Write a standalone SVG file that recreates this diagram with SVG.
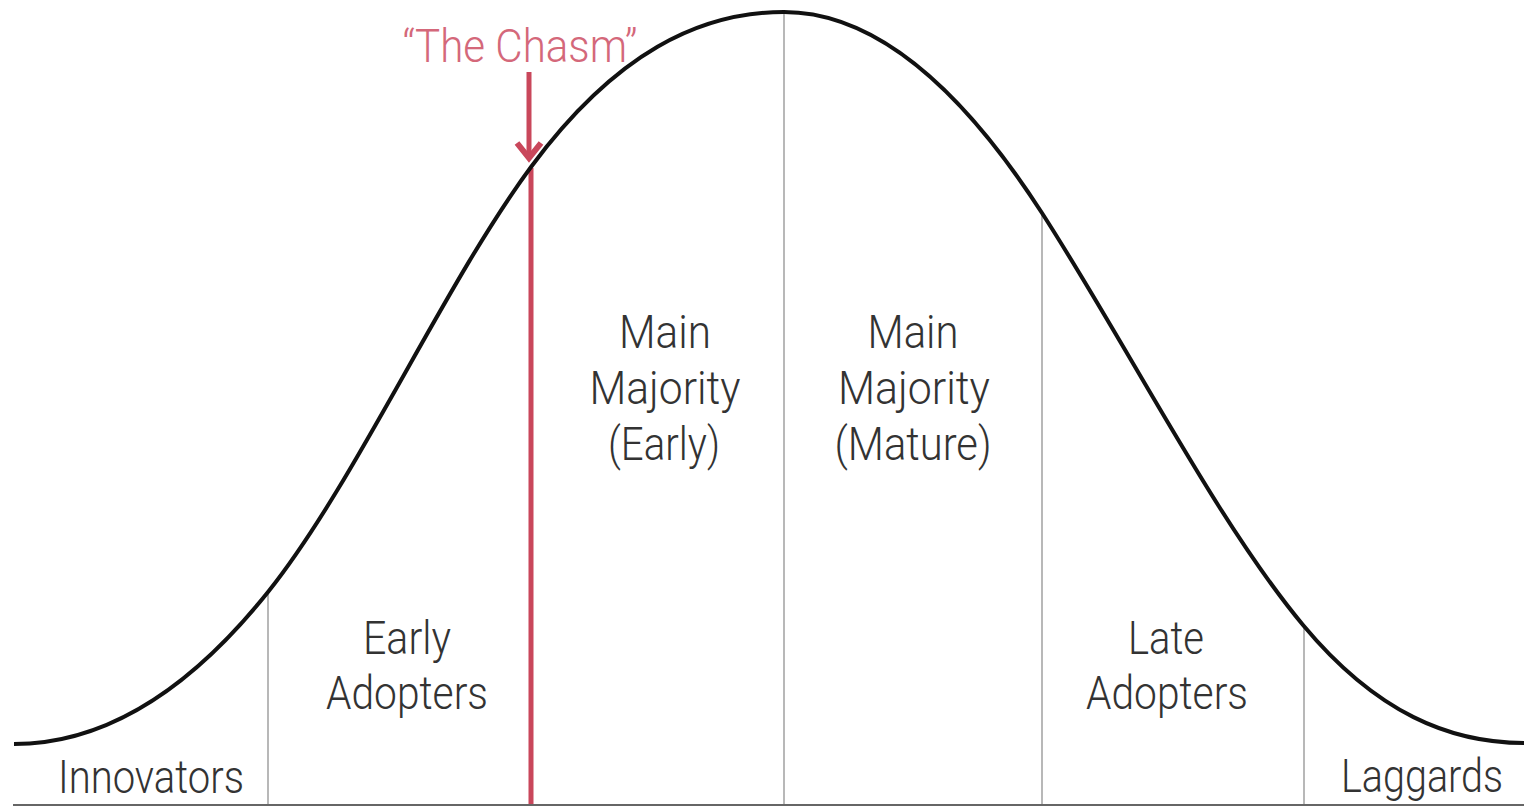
<svg xmlns="http://www.w3.org/2000/svg" width="1524" height="807" viewBox="0 0 1524 807">
<style>
.lbl{font-family:Roboto,"Liberation Sans",sans-serif;font-size:46px;font-weight:300;fill:#333;text-anchor:middle}
.div{stroke:#b8b8b8;stroke-width:2;fill:none}
.red{stroke:#c9475b;fill:none}
</style>
<rect width="1524" height="807" fill="#fff"/>
<g id="dividers">
<line class="div" x1="268" y1="594" x2="268" y2="805"/>
<line class="div" x1="784" y1="12" x2="784" y2="805"/>
<line class="div" x1="1042" y1="213" x2="1042" y2="805"/>
<line class="div" x1="1304" y1="628" x2="1304" y2="805"/>
</g>
<g id="chasm-line">
<line class="red" stroke-width="5" x1="531" y1="168" x2="531" y2="805"/>
</g>
<g id="curve">
<path d="M14,744 C98.7,744 183.3,697.9 268,592 C355.7,482.4 443.3,285.4 531,167 C615.3,53.1 699.7,12 784,12 C870,12 956,79.7 1042,213 C1129,347.9 1216,520.6 1303,625 C1376.7,713.4 1450.3,743 1524,743" fill="none" stroke="#111" stroke-width="4"/>
</g>
<g id="baseline">
<line x1="13" y1="805" x2="1524" y2="805" stroke="#666" stroke-width="2"/>
</g>
<g id="connectors">
<line class="red" stroke-width="5" x1="529" y1="72" x2="529" y2="156"/>
<polyline class="red" stroke-width="6" points="517,143 529,158 541,143" stroke-linejoin="miter"/>
</g>
<g id="chasm-label">
<text class="lbl" x="520" y="62" textLength="235" lengthAdjust="spacingAndGlyphs" style="fill:#d4687a">“The Chasm”</text>
</g>
<g id="innovators">
<text class="lbl" x="151" y="793" textLength="186" lengthAdjust="spacingAndGlyphs">Innovators</text>
</g>
<g id="early-adopters">
<text class="lbl" x="407" y="654" textLength="88" lengthAdjust="spacingAndGlyphs">Early</text>
<text class="lbl" x="407" y="709" textLength="162" lengthAdjust="spacingAndGlyphs">Adopters</text>
</g>
<g id="main-early">
<text class="lbl" x="665" y="348" textLength="92" lengthAdjust="spacingAndGlyphs">Main</text>
<text class="lbl" x="665" y="404" textLength="151" lengthAdjust="spacingAndGlyphs">Majority</text>
<text class="lbl" x="664" y="460" textLength="112" lengthAdjust="spacingAndGlyphs">(Early)</text>
</g>
<g id="main-mature">
<text class="lbl" x="913" y="348" textLength="91" lengthAdjust="spacingAndGlyphs">Main</text>
<text class="lbl" x="914" y="404" textLength="152" lengthAdjust="spacingAndGlyphs">Majority</text>
<text class="lbl" x="913" y="460" textLength="157" lengthAdjust="spacingAndGlyphs">(Mature)</text>
</g>
<g id="late-adopters">
<text class="lbl" x="1166" y="654" textLength="76" lengthAdjust="spacingAndGlyphs">Late</text>
<text class="lbl" x="1167" y="709" textLength="162" lengthAdjust="spacingAndGlyphs">Adopters</text>
</g>
<g id="laggards">
<text class="lbl" x="1422" y="792" textLength="162" lengthAdjust="spacingAndGlyphs">Laggards</text>
</g>
</svg>
